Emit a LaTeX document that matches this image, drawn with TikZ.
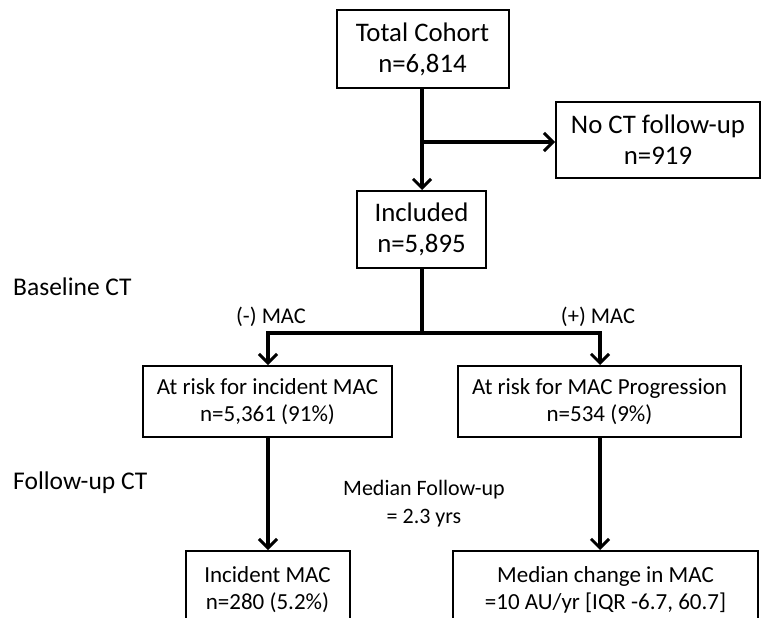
\documentclass[tikz,border=0pt]{standalone}
\usepackage{fontspec}
\setmainfont{Carlito}
\usetikzlibrary{arrows.meta}
\tikzset{
  box/.style={draw=black, line width=2pt, fill=white, inner sep=0pt, align=center},
  bigtxt/.style={font=\fontsize{26.8}{31}\selectfont},
  smalltxt/.style={font=\fontsize{23}{27}\selectfont},
  lbl/.style={font=\fontsize{25.5}{30}\selectfont, inner sep=0pt},
  mac/.style={font=\fontsize{22.5}{27}\selectfont, inner sep=0pt},
  conn/.style={line width=3.2pt, -{Straight Barb[length=9pt,width=18pt,line width=3pt]}},
  plain/.style={line width=3.2pt}
}
\begin{document}
\begin{tikzpicture}[x=1pt,y=-1pt]
\clip (0,0) rectangle (763,618);
\fill[white] (0,0) rectangle (763,618);
% boxes
\node[box,bigtxt,minimum width=172pt,minimum height=78pt] (tc) at (422.5,49) {Total Cohort\\n=6,814};
\node[box,bigtxt,minimum width=204pt,minimum height=76pt] (noct) at (658,140) {No CT follow-up\\n=919};
\node[box,bigtxt,minimum width=129pt,minimum height=77pt] (inc) at (421.5,229.5) {Included\\n=5,895};
\node[box,smalltxt,minimum width=249pt,minimum height=71pt] (lrisk) at (267.5,401.5) {At risk for incident MAC\\n=5,361 (91\%)};
\node[box,smalltxt,minimum width=283pt,minimum height=71pt] (rrisk) at (599.5,401.5) {At risk for MAC Progression\\n=534 (9\%)};
\node[box,minimum width=164pt,minimum height=80pt,anchor=north] (linc) at (267.5,550) {};
\node[smalltxt,align=center] (linct) at (267.5,589.5) {Incident MAC\\n=280 (5.2\%)};
\node[box,minimum width=305pt,minimum height=80pt,anchor=north] (rmed) at (605.5,550) {};
\node[smalltxt,align=center] (rmedt) at (605.5,589.5) {Median change in MAC\\=10 AU/yr [IQR -6.7, 60.7]};
% labels
\node[lbl,anchor=west] (base) at (13,287) {Baseline CT};
\node[lbl,anchor=west] (fup) at (13,483) {Follow-up CT};
\node[mac] (neg) at (271,317) {(-) MAC};
\node[mac] (pos) at (598,317) {(+) MAC};
\node[mac,align=center,font=\fontsize{22}{28}\selectfont] (medfu) at (424,504) {Median Follow-up\\= 2.3 yrs};
% connectors
\coordinate (b1) at (422,142);
\coordinate (b2) at (422,333);
\coordinate (bl) at (268,333);
\coordinate (br) at (600,333);
\draw[conn] (tc.south -| b1) -- (inc.north -| b1);
\draw[conn] (b1) -- (noct.west |- b1);
\draw[plain] (inc.south -| b2) -- (b2);
\draw[plain,line cap=rect] (bl) -- (br);
\draw[conn] (bl) -- (lrisk.north -| bl);
\draw[conn] (br) -- (rrisk.north -| br);
\draw[conn] (lrisk.south -| bl) -- (linc.north -| bl);
\draw[conn] (rrisk.south -| br) -- (rmed.north -| br);
\end{tikzpicture}
\end{document}
